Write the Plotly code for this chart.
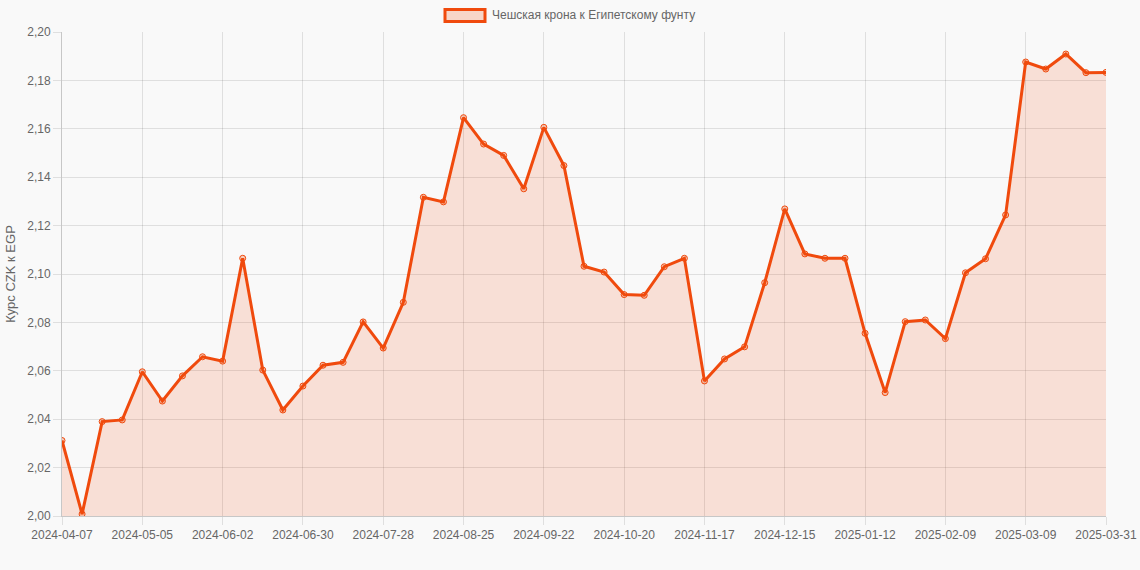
import datetime as dt
import plotly.graph_objects as go

# ---- data ----
start = dt.date(2024, 4, 7)
dates = [(start + dt.timedelta(days=7 * i)).isoformat() for i in range(52)] + ["2025-03-31"]

rates = [
    2.0312, 2.0008, 2.0390, 2.0397, 2.0596, 2.0475, 2.0579, 2.0658, 2.0640, 2.1065,
    2.0603, 2.0438, 2.0537, 2.0623, 2.0635, 2.0802, 2.0694, 2.0883, 2.1317, 2.1298,
    2.1646, 2.1537, 2.1490, 2.1352, 2.1606, 2.1448, 2.1032, 2.1008, 2.0915, 2.0912,
    2.1030, 2.1065, 2.0558, 2.0649, 2.0699, 2.0964, 2.1269, 2.1083, 2.1065, 2.1065,
    2.0755, 2.0510, 2.0803, 2.0810, 2.0733, 2.1005, 2.1063, 2.1244, 2.1876, 2.1847,
    2.1909, 2.1832, 2.1833,
]

series_name = "Чешская крона к Египетскому фунту"
y_title = "Курс CZK к EGP"
y_ticks = [2.00, 2.02, 2.04, 2.06, 2.08, 2.10, 2.12, 2.14, 2.16, 2.18, 2.20]
x_tick_labels = dates[::4] + [dates[-1]]

# ---- style ----
LINE = "#f04a0d"
FILL = "rgba(240,74,13,0.15)"
BG = "#f9f9f9"
FONT = "Liberation Sans, Arial, Helvetica, sans-serif"
GRID = "rgba(0,0,0,0.1)"
TXT = "#666666"

W, H = 1140, 570
ML, MR, MT, MB = 62, 34, 32, 54
PWID, PHGT = W - ML - MR, H - MT - MB


def px_x(p):
    return (p - ML) / PWID


def px_y(p):
    return 1 - (p - MT) / PHGT


fig = go.Figure()
fig.add_trace(go.Scatter(
    x=dates, y=rates, name=series_name,
    mode="lines+markers", fill="tozeroy", fillcolor=FILL,
    line=dict(color=LINE, width=3),
    marker=dict(size=6, color="rgba(240,74,13,0.25)", line=dict(color=LINE, width=1)),
    showlegend=False,
))

# legend (Chart.js style box + label)
fig.add_shape(type="rect", xref="paper", yref="paper",
              x0=px_x(445), x1=px_x(485), y0=px_y(21.5), y1=px_y(9.5),
              fillcolor="rgba(247,214,200,1)", line=dict(color=LINE, width=3))
fig.add_annotation(xref="paper", yref="paper", x=px_x(490), y=px_y(15.5),
                   xanchor="left", yanchor="middle", showarrow=False,
                   text=series_name, font=dict(size=12, color=TXT, family=FONT))

fig.update_layout(
    width=W, height=H,
    paper_bgcolor=BG, plot_bgcolor=BG,
    margin=dict(l=ML, r=MR, t=MT, b=MB, autoexpand=False),
    font=dict(family=FONT, size=12, color=TXT),
    showlegend=False,
    hovermode=False,
)

fig.update_xaxes(
    type="category", range=[0, len(dates) - 1], automargin=False,
    tickmode="array", tickvals=x_tick_labels, ticktext=x_tick_labels,
    showgrid=True, gridcolor=GRID, gridwidth=1,
    ticks="outside", ticklen=8, tickcolor=GRID,
    showline=True, linecolor="rgba(0,0,0,0.2)", linewidth=1,
    tickfont=dict(size=12, color=TXT), tickangle=0,
    zeroline=False,
)
fig.update_yaxes(
    range=[2.0, 2.2], automargin=False, tickmode="array", tickvals=y_ticks,
    ticktext=[f"{v:.2f}".replace(".", ",") for v in y_ticks],
    showgrid=True, gridcolor=GRID, gridwidth=1,
    ticks="outside", ticklen=8, tickcolor=GRID,
    showline=True, linecolor="rgba(0,0,0,0.2)", linewidth=1,
    tickfont=dict(size=12, color=TXT),
    title=dict(text=y_title, font=dict(size=13, color=TXT), standoff=8),
    zeroline=False,
)

fig.write_html(
    "out.html",
    config={"displayModeBar": False},
    post_script="document.body.style.margin='0';document.body.style.background='%s';"
                "document.body.style.overflow='hidden';" % BG,
)
